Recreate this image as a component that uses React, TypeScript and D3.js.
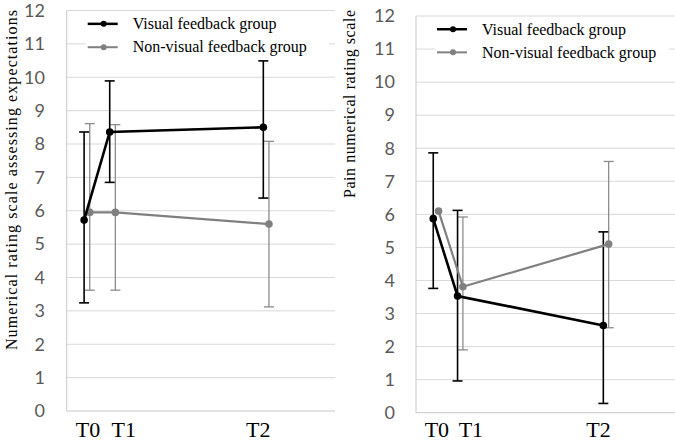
import * as d3 from "d3";

const WIDTH = 675;
const HEIGHT = 443;

// time points (weeks) and their labels
const TIMES = [0, 1, 7];
const TIME_LABELS = ["T0", "T1", "T2"];
const TIME_LABEL_POS = [0.15, 1.55, 6.8];
const Y_TICKS = [0, 1, 2, 3, 4, 5, 6, 7, 8, 9, 10, 11, 12];

const SERIES_NAMES = ["Visual feedback group", "Non-visual feedback group"];

// left panel: expectations
const EXP_VISUAL_MEAN = [5.72, 8.36, 8.5];
const EXP_VISUAL_LOW = [3.24, 6.85, 6.38];
const EXP_VISUAL_HIGH = [8.36, 9.89, 10.49];
const EXP_NONVIS_MEAN = [5.95, 5.95, 5.6];
const EXP_NONVIS_LOW = [3.62, 3.62, 3.12];
const EXP_NONVIS_HIGH = [8.61, 8.58, 8.08];

// right panel: pain
const PAIN_VISUAL_MEAN = [5.87, 3.53, 2.64];
const PAIN_VISUAL_LOW = [3.76, 0.96, 0.28];
const PAIN_VISUAL_HIGH = [7.86, 6.12, 5.47];
const PAIN_NONVIS_MEAN = [6.1, 3.81, 5.1];
const PAIN_NONVIS_LOW: (number | null)[] = [null, 1.9, 2.57];
const PAIN_NONVIS_HIGH: (number | null)[] = [null, 5.92, 7.6];

const COLORS = ["#000000", "#808080"];
const BAR_COLORS = ["#000000", "#8c8c8c"];
const GREY_SHIFT = 0.22;

type Series = {
  mean: number[];
  low: (number | null)[];
  high: (number | null)[];
};

type PanelProps = {
  left: number;
  right: number;
  top: number;
  bottom: number;
  xDomain: [number, number];
  tickRight: number;
  title: string;
  titleX: number;
  titleTop: number;
  titleBottom: number;
  series: Series[];
};

function Panel(p: PanelProps) {
  const x = d3.scaleLinear().domain(p.xDomain).range([p.left, p.right]);
  const y = d3.scaleLinear().domain([0, 12]).range([p.bottom, p.top]);
  const cap = 5;
  const legendRows = [11.6, 10.9];
  const legendX0 = p.left + 21;

  return (
    <g>
      {/* grid */}
      {Y_TICKS.map((t) => (
        <line
          key={"g" + t}
          x1={p.left}
          x2={p.right}
          y1={y(t)}
          y2={y(t)}
          stroke={t === 0 ? "#c8c8c8" : "#d9d9d9"}
          strokeWidth={1}
        />
      ))}
      <line x1={p.left} x2={p.left} y1={y(0)} y2={y(12)} stroke="#c8c8c8" strokeWidth={1} />
      {Y_TICKS.map((t) => (
        <text
          key={"t" + t}
          x={p.tickRight}
          y={y(t)}
          dy="0.35em"
          textAnchor="end"
          fontFamily="Lato, 'Open Sans', sans-serif"
          fontSize={18}
          fill="#595959"
        >
          {t}
        </text>
      ))}
      {TIME_LABELS.map((l, i) => (
        <text
          key={l}
          x={x(TIME_LABEL_POS[i])}
          y={437}
          textAnchor="middle"
          fontFamily="'Liberation Serif', 'DejaVu Serif', serif"
          fontSize={22}
          fill="#000"
        >
          {l}
        </text>
      ))}
      <text
        transform={`translate(${p.titleX},${p.titleBottom}) rotate(-90)`}
        fontFamily="'Liberation Serif', serif"
        fontSize={16}
        fill="#000"
        textLength={p.titleBottom - p.titleTop}
        lengthAdjust="spacing"
      >
        {p.title}
      </text>

      {/* legend */}
      <rect
        x={legendX0 - 2}
        y={y(12) + 3}
        width={p.right - legendX0 - 4}
        height={y(10.6) - y(12) - 3}
        fill="#fff"
      />
      {SERIES_NAMES.map((name, k) => (
        <g key={name}>
          <line
            x1={legendX0}
            x2={legendX0 + 30}
            y1={y(legendRows[k])}
            y2={y(legendRows[k])}
            stroke={COLORS[k]}
            strokeWidth={k === 0 ? 2.5 : 2}
          />
          <circle cx={legendX0 + 16} cy={y(legendRows[k])} r={3} fill={COLORS[k]} />
          <text
            x={legendX0 + 45}
            y={y(legendRows[k])}
            dy="0.33em"
            fontFamily="'Liberation Serif', serif"
            fontSize={16}
            fill="#000"
          >
            {name}
          </text>
        </g>
      ))}

      {/* error bars, grey first */}
      {[1, 0].map((k) => {
        const s = p.series[k];
        const shift = k === 1 ? GREY_SHIFT : 0;
        return (
          <g key={"e" + k} stroke={BAR_COLORS[k]} strokeWidth={k === 0 ? 1.6 : 1.3}>
            {TIMES.map((t, i) => {
              const lo = s.low[i];
              const hi = s.high[i];
              if (lo == null || hi == null) return null;
              const cx = x(t + shift);
              return (
                <g key={i}>
                  <line x1={cx} x2={cx} y1={y(lo)} y2={y(hi)} />
                  <line x1={cx - cap} x2={cx + cap} y1={y(lo)} y2={y(lo)} />
                  <line x1={cx - cap} x2={cx + cap} y1={y(hi)} y2={y(hi)} />
                </g>
              );
            })}
          </g>
        );
      })}

      {/* lines and markers */}
      {[1, 0].map((k) => {
        const s = p.series[k];
        const shift = k === 1 ? GREY_SHIFT : 0;
        const line = d3
          .line<number>()
          .x((_, i) => x(TIMES[i] + shift))
          .y((d) => y(d));
        return (
          <g key={"l" + k}>
            <path d={line(s.mean) ?? ""} fill="none" stroke={COLORS[k]} strokeWidth={k === 0 ? 2.6 : 2.2} />
            {s.mean.map((m, i) => (
              <circle key={i} cx={x(TIMES[i] + shift)} cy={y(m)} r={3.8} fill={COLORS[k]} />
            ))}
          </g>
        );
      })}
    </g>
  );
}

export default function App() {
  return (
    <svg
      width={WIDTH}
      height={HEIGHT}
      style={{ position: "absolute", left: 0, top: 0, background: "#fff" }}
    >
      <rect width={WIDTH} height={HEIGHT} fill="#fff" />
      <Panel
        left={66.7}
        right={335}
        top={10.5}
        bottom={411}
        xDomain={[-0.68, 9.8]}
        tickRight={45}
        title="Numerical rating scale assessing expectations"
        titleX={17}
        titleTop={10}
        titleBottom={350}
        series={[
          { mean: EXP_VISUAL_MEAN, low: EXP_VISUAL_LOW, high: EXP_VISUAL_HIGH },
          { mean: EXP_NONVIS_MEAN, low: EXP_NONVIS_LOW, high: EXP_NONVIS_HIGH },
        ]}
      />
      <Panel
        left={416}
        right={675}
        top={16}
        bottom={412.7}
        xDomain={[-0.71, 9.95]}
        tickRight={395}
        title="Pain numerical rating scale"
        titleX={355}
        titleTop={10}
        titleBottom={198}
        series={[
          { mean: PAIN_VISUAL_MEAN, low: PAIN_VISUAL_LOW, high: PAIN_VISUAL_HIGH },
          { mean: PAIN_NONVIS_MEAN, low: PAIN_NONVIS_LOW, high: PAIN_NONVIS_HIGH },
        ]}
      />
    </svg>
  );
}
